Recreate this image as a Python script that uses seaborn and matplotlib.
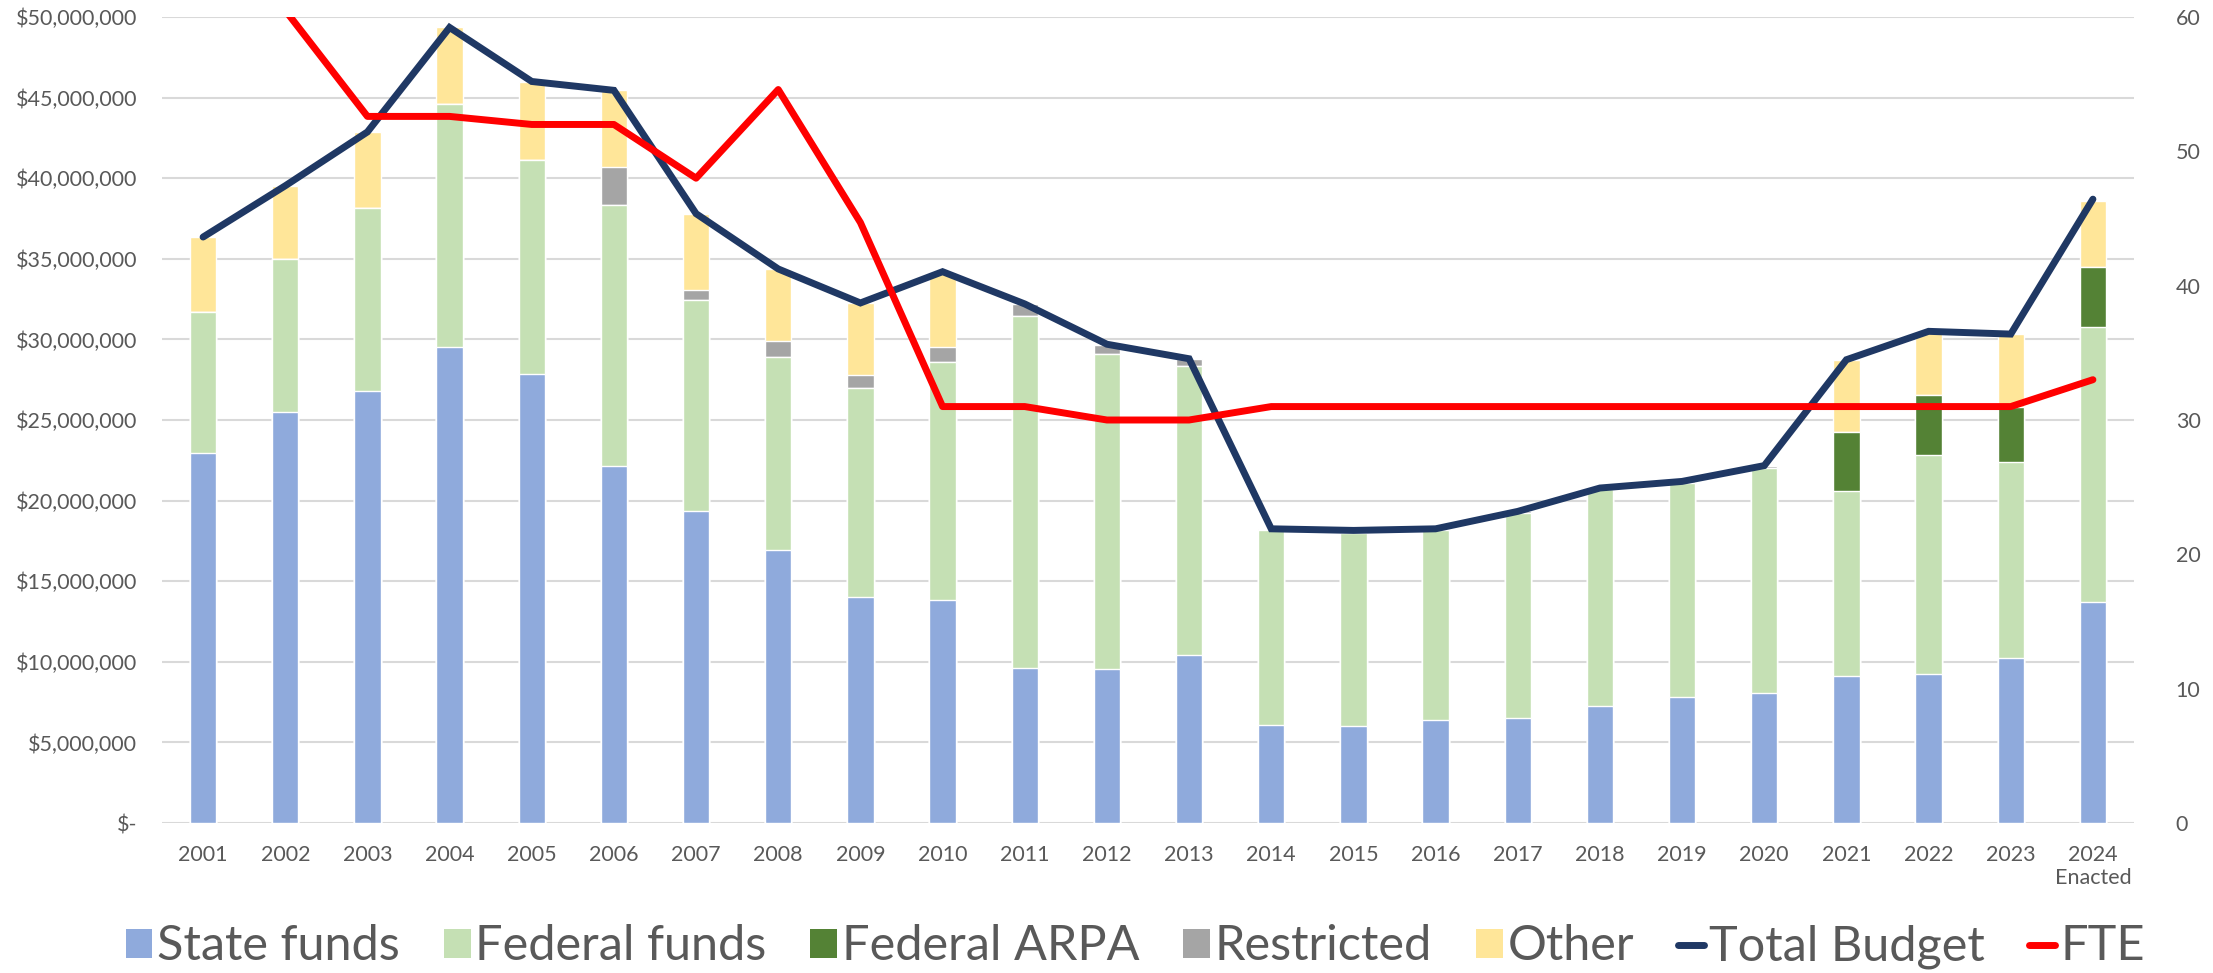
import numpy as np
import matplotlib
matplotlib.use("Agg")
import matplotlib.pyplot as plt
from matplotlib.patches import Patch
from matplotlib.lines import Line2D
from matplotlib.ticker import FuncFormatter, FixedLocator
import seaborn as sns

# values in $ millions
years = ["2001", "2002", "2003", "2004", "2005", "2006", "2007", "2008", "2009", "2010",
         "2011", "2012", "2013", "2014", "2015", "2016", "2017", "2018", "2019", "2020",
         "2021", "2022", "2023", "2024\nEnacted"]
state_funds = [22.93, 25.47, 26.82, 29.50, 27.87, 22.17, 19.35, 16.95, 14.04, 13.85,
               9.63, 9.57, 10.44, 6.06, 6.04, 6.39, 6.50, 7.25, 7.80, 8.05,
               9.10, 9.26, 10.23, 13.70]
federal_funds = [8.74, 9.53, 11.33, 15.10, 13.28, 16.19, 13.11, 11.98, 12.94, 14.72,
                 21.84, 19.54, 17.89, 12.09, 11.96, 11.81, 12.75, 13.45, 13.29, 13.97,
                 11.51, 13.59, 12.14, 17.07]
federal_arpa = [0, 0, 0, 0, 0, 0, 0, 0, 0, 0,
                0, 0, 0, 0, 0, 0, 0, 0, 0, 0,
                3.62, 3.72, 3.45, 3.70]
restricted = [0, 0, 0, 0, 0, 2.31, 0.62, 0.95, 0.83, 0.96,
              0.74, 0.56, 0.45, 0.10, 0.05, 0.05, 0.08, 0.08, 0.10, 0.15,
              0, 0, 0, 0]
other = [4.68, 4.53, 4.72, 4.75, 4.80, 4.78, 4.72, 4.49, 4.45, 4.57,
         0, 0, 0, 0, 0, 0, 0, 0, 0, 0,
         4.51, 3.83, 4.51, 4.13]
total_budget = [36.35, 39.53, 42.87, 49.35, 46.00, 45.45, 37.80, 34.37, 32.26, 34.20,
                32.20, 29.70, 28.80, 18.25, 18.15, 18.25, 19.33, 20.78, 21.19, 22.17,
                28.74, 30.50, 30.33, 38.70]
fte = [68, 60.5, 52.6, 52.6, 52.0, 52.0, 48.0, 54.6, 44.7, 31,
       31, 30, 30, 31, 31, 31, 31, 31, 31, 31,
       31, 31, 31, 33]

labels = ["State funds", "Federal funds", "Federal ARPA", "Restricted", "Other"]
colors = ["#8FAADC", "#C5E0B4", "#548235", "#A5A5A5", "#FFE699"]
navy = "#1F3864"
red = "#FF0000"
grey_text = "#595959"

sns.set_style("white")
plt.rcParams["font.family"] = ["Lato", "DejaVu Sans"]

fig = plt.figure(figsize=(22.13, 9.73), dpi=100)
ax = fig.add_axes([162 / 2213, 1 - 823 / 973, (2134 - 162) / 2213, (823 - 17) / 973])

# stacked bars: draw cumulative heights from the top layer down
layers = [state_funds, federal_funds, federal_arpa, restricted, other]
cum = np.cumsum(np.array(layers) * 1e6, axis=0)
for i in range(len(layers) - 1, -1, -1):
    sns.barplot(x=years, y=cum[i], color=colors[i], saturation=1, width=0.32,
                errorbar=None, ax=ax, zorder=2 + (len(layers) - i) * 0.01)

idx = np.arange(len(years))
sns.lineplot(x=idx, y=np.array(total_budget) * 1e6, color=navy, linewidth=5,
             ax=ax, zorder=5, solid_joinstyle="miter")

ax.set_xlim(-0.5, len(years) - 0.5)
ax.set_ylim(0, 50e6)
ax.yaxis.set_major_locator(FixedLocator(np.arange(0, 50e6 + 1, 5e6)))
ax.yaxis.set_major_formatter(FuncFormatter(lambda v, p: "$-" if v == 0 else f"${v:,.0f}"))
ax.grid(axis="y", color="#D9D9D9", linewidth=1.5, zorder=0)
ax.set_axisbelow(True)
for s in ax.spines.values():
    s.set_visible(False)
ax.tick_params(axis="both", length=0, labelsize=15.5, colors=grey_text)
ax.tick_params(axis="x", pad=16)
ax.tick_params(axis="y", pad=18)
ax.set_xlabel("")
ax.set_ylabel("")

ax2 = ax.twinx()
sns.lineplot(x=idx, y=fte, color=red, linewidth=5, ax=ax2, zorder=6)
ax2.set_ylim(0, 60)
ax2.yaxis.set_major_locator(FixedLocator(np.arange(0, 61, 10)))
for s in ax2.spines.values():
    s.set_visible(False)
ax2.tick_params(axis="y", length=0, labelsize=15.5, colors=grey_text, pad=30)
ax2.set_ylabel("")
ax2.grid(False)

handles = [Patch(facecolor=c, edgecolor="none") for c in colors]
handles += [Line2D([], [], color=navy, linewidth=5), Line2D([], [], color=red, linewidth=5)]
fig.legend(handles, labels + ["Total Budget", "FTE"], loc="center", ncol=7,
           bbox_to_anchor=(0.513, 0.027), frameon=False, fontsize=35,
           handlelength=0.55, handleheight=0.55, handletextpad=0.1,
           columnspacing=0.9, labelcolor=grey_text)

fig.savefig("out.png", dpi=100)
